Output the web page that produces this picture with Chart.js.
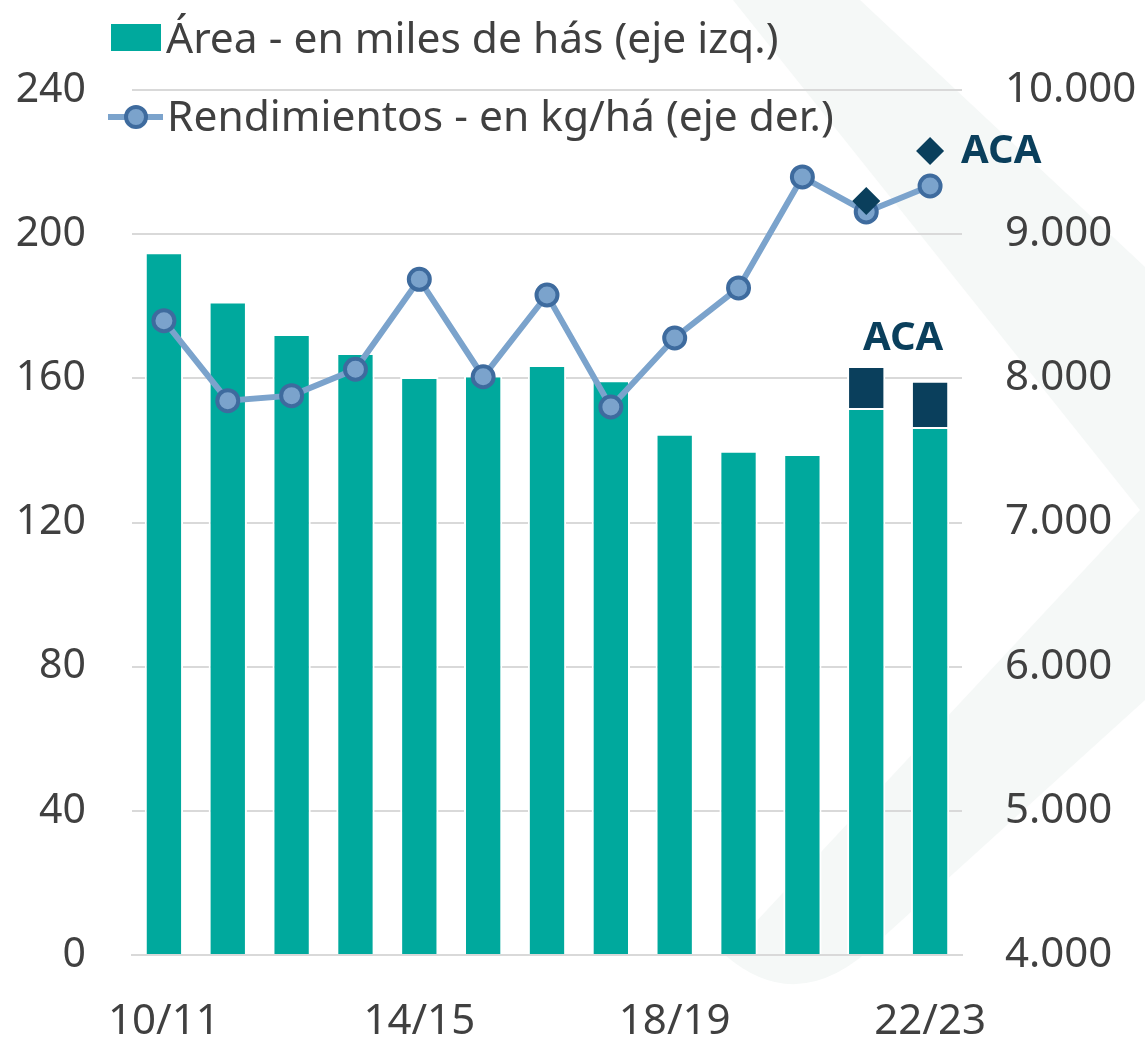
<!DOCTYPE html>
<html>
<head>
<meta charset="utf-8">
<script src="https://cdn.jsdelivr.net/npm/chart.js@4.4.1/dist/chart.umd.min.js"></script>
<style>
  html, body { margin: 0; padding: 0; background: #fff; }
  #wrap { width: 1145px; height: 1040px; }
</style>
</head>
<body>
<div id="wrap"><canvas id="grafico"></canvas></div>
<script>
const campanias = ['10/11', '11/12', '12/13', '13/14', '14/15', '15/16', '16/17', '17/18', '18/19', '19/20', '20/21', '21/22', '22/23'];
const area = [195, 181.3, 172.3, 167, 160.4, 160.8, 163.7, 159.5, 144.6, 139.9, 139, 151.8, 146.5];
const areaAca = [null, null, null, null, null, null, null, null, null, null, null, 11.6, 12.8];
const rendimientos = [8400, 7845, 7880, 8063, 8687, 8011, 8578, 7801, 8280, 8627, 9397, 9154, 9334];
const rendimientosAca = [null, null, null, null, null, null, null, null, null, null, null, 9230, 9577];
const ticksLeft = { min: 0, max: 240, step: 40 };
const ticksRight = { min: 4000, max: 10000, step: 1000 };

const verde = '#00A99D';
const azul = '#0A3F5C';
const celeste = '#7BA3CC';
const bordeCeleste = '#3E6B9E';
const gris = '#404040';
const fuente = "'Noto Sans', 'Open Sans', sans-serif";

function miles(v) {
    return String(v).replace(/\B(?=(\d{3})+(?!\d))/g, '.');
}

// fondo con la marca de agua clara
const fondo = {
    id: 'fondo',
    beforeDraw(chart) {
        const ctx = chart.ctx;
        ctx.save();
        ctx.fillStyle = '#fff';
        ctx.fillRect(0, 0, chart.width, chart.height);
        ctx.fillStyle = '#F5F8F7';
        ctx.beginPath();
        ctx.moveTo(733, 0);
        ctx.lineTo(860, 0);
        ctx.lineTo(1145, 267);
        ctx.lineTo(1145, 700);
        ctx.lineTo(880, 940);
        ctx.quadraticCurveTo(800, 1020, 725, 955);
        ctx.lineTo(1140, 510);
        ctx.closePath();
        ctx.fill();
        ctx.restore();
    }
};

// leyenda dibujada encima del area del grafico, como en el original
const leyenda = {
    id: 'leyenda',
    afterDraw(chart) {
        const ctx = chart.ctx;
        ctx.save();
        ctx.font = '42.5px ' + fuente;
        ctx.textBaseline = 'alphabetic';
        ctx.textAlign = 'left';

        ctx.fillStyle = verde;
        ctx.fillRect(111, 24, 50, 27);
        ctx.fillStyle = gris;
        ctx.fillText(chart.data.datasets[0].label, 166, 53);

        ctx.strokeStyle = celeste;
        ctx.lineWidth = 6;
        ctx.beginPath();
        ctx.moveTo(108, 117);
        ctx.lineTo(163, 117);
        ctx.stroke();
        ctx.beginPath();
        ctx.arc(136, 117, 10, 0, Math.PI * 2);
        ctx.fillStyle = celeste;
        ctx.fill();
        ctx.lineWidth = 4;
        ctx.strokeStyle = bordeCeleste;
        ctx.stroke();
        ctx.fillStyle = gris;
        ctx.fillText(chart.data.datasets[2].label, 167, 131);
        ctx.restore();
    }
};

// etiquetas "ACA"
const etiquetasAca = {
    id: 'etiquetasAca',
    afterDatasetsDraw(chart) {
        const ctx = chart.ctx;
        const x = chart.scales.x, y = chart.scales.y, y1 = chart.scales.y1;
        const n = campanias.length;
        ctx.save();
        ctx.font = 'bold 40px ' + fuente;
        ctx.fillStyle = azul;
        ctx.textBaseline = 'middle';

        const topeBarra = y.getPixelForValue(area[n - 2] + areaAca[n - 2]);
        const xm = (x.getPixelForValue(n - 2) + x.getPixelForValue(n - 1)) / 2 + 5;
        ctx.textAlign = 'center';
        ctx.fillText('ACA', xm, topeBarra - 27);

        ctx.textAlign = 'left';
        ctx.fillText('ACA', x.getPixelForValue(n - 1) + 31, y1.getPixelForValue(rendimientosAca[n - 1]) + 1);
        ctx.restore();
    }
};

new Chart(document.getElementById('grafico'), {
    type: 'bar',
    data: {
        labels: campanias,
        datasets: [{
            label: 'Área - en miles de hás (eje izq.)',
            data: area,
            backgroundColor: verde,
            borderColor: '#fff',
            borderWidth: 2,
            borderSkipped: 'bottom',
            stack: 'area',
            yAxisID: 'y',
            order: 3,
            barPercentage: 0.6,
            categoryPercentage: 1
        }, {
            label: 'Área ACA',
            data: areaAca,
            backgroundColor: azul,
            borderColor: '#fff',
            borderWidth: 2,
            borderSkipped: 'bottom',
            stack: 'area',
            yAxisID: 'y',
            order: 3,
            barPercentage: 0.6,
            categoryPercentage: 1
        }, {
            type: 'line',
            label: 'Rendimientos - en kg/há (eje der.)',
            data: rendimientos,
            yAxisID: 'y1',
            borderColor: celeste,
            borderWidth: 6,
            pointRadius: 10.5,
            pointBorderWidth: 4,
            pointBackgroundColor: celeste,
            pointBorderColor: bordeCeleste,
            fill: false,
            order: 2
        }, {
            type: 'line',
            label: 'Rendimiento ACA',
            data: rendimientosAca,
            yAxisID: 'y1',
            showLine: false,
            pointStyle: 'rectRot',
            pointRadius: 14,
            pointBorderWidth: 0,
            pointBackgroundColor: azul,
            pointBorderColor: azul,
            order: 1
        }]
    },
    options: {
        responsive: true,
        maintainAspectRatio: false,
        animation: false,
        layout: { padding: { top: 90, left: 0, right: 0, bottom: 0 } },
        plugins: {
            legend: { display: false },
            tooltip: { enabled: false }
        },
        scales: {
            x: {
                stacked: true,
                grid: { display: false, drawTicks: false },
                border: { display: true, color: '#D9D9D9', width: 2 },
                ticks: {
                    autoSkip: false,
                    maxRotation: 0,
                    padding: 42,
                    color: gris,
                    font: { family: fuente, size: 42 },
                    callback: (v, i) => (i % 4 === 0 ? campanias[i] : '')
                },
                afterFit: s => { s.height = 85; }
            },
            y: {
                position: 'left',
                stacked: true,
                min: ticksLeft.min,
                max: ticksLeft.max,
                grid: { color: '#D9D9D9', lineWidth: 2, drawTicks: false },
                border: { display: false },
                ticks: {
                    stepSize: ticksLeft.step,
                    padding: 46,
                    color: gris,
                    font: { family: fuente, size: 41 }
                },
                afterFit: s => { s.width = 132; }
            },
            y1: {
                position: 'right',
                min: ticksRight.min,
                max: ticksRight.max,
                grid: { display: false, drawTicks: false },
                border: { display: false },
                ticks: {
                    stepSize: ticksRight.step,
                    padding: 43,
                    color: gris,
                    font: { family: fuente, size: 42 },
                    callback: v => miles(v)
                },
                afterFit: s => { s.width = 183; }
            }
        }
    },
    plugins: [fondo, leyenda, etiquetasAca]
});
</script>
</body>
</html>
